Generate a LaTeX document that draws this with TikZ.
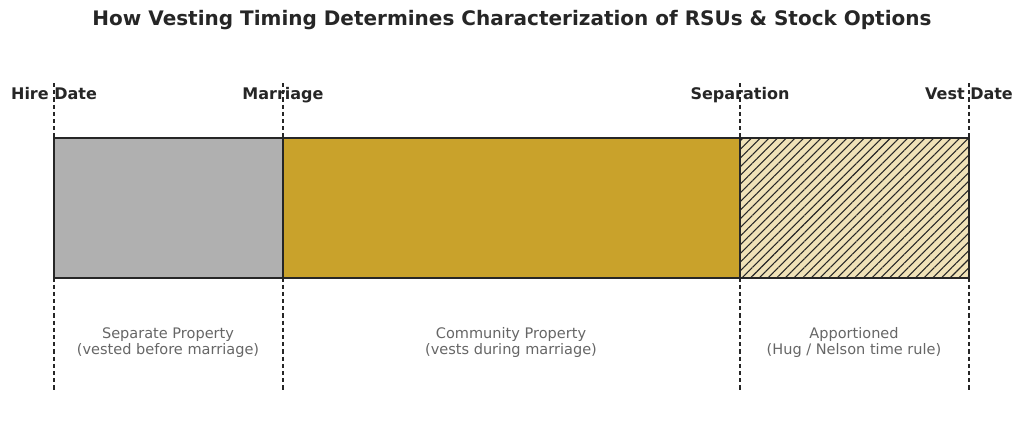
\documentclass[tikz,border=0pt]{standalone}
\usepackage{fontspec}
\setmainfont{DejaVu Sans}
\usetikzlibrary{patterns.meta}

\definecolor{inkdark}{HTML}{262626}
\definecolor{labelgray}{HTML}{666666}
\definecolor{sepgray}{HTML}{B0B0B0}
\definecolor{commgold}{HTML}{C9A22B}
\definecolor{apptan}{HTML}{F0E2B8}

\begin{document}
\begin{tikzpicture}[x=0.75pt,y=-0.75pt,
    milestone/.style={font=\bfseries\fontsize{12}{14}\selectfont, text=inkdark, anchor=base},
    period/.style={font=\fontsize{10.9}{12.2}\selectfont, text=labelgray, align=center},
    marker/.style={dashed, dash pattern=on 3.2pt off 2.2pt, line width=0.9pt, draw=inkdark},
    barbox/.style={draw=inkdark, line width=0.8pt}]
  \useasboundingbox (0,0) rectangle (1024,430);

  \node[font=\bfseries\fontsize{15}{18}\selectfont, text=inkdark] (title) at (512,20.5)
    {How Vesting Timing Determines Characterization of RSUs \& Stock Options};

  % timeline points
  \coordinate (hireT) at (54,83);   \coordinate (hireB) at (54,390);
  \coordinate (marT) at (283,83);   \coordinate (marB) at (283,390);
  \coordinate (sepT) at (740,83);   \coordinate (sepB) at (740,390);
  \coordinate (vestT) at (969,83);  \coordinate (vestB) at (969,390);

  % bars
  \draw[barbox, fill=sepgray] (54,138) rectangle (283,278);
  \draw[barbox, fill=commgold] (283,138) rectangle (740,278);
  \fill[apptan] (740,138) rectangle (969,278);
  \fill[pattern={Lines[angle=45, distance=4.6pt, line width=0.8pt]}, pattern color=inkdark]
    (740,138) rectangle (969,278);
  \draw[barbox] (740,138) rectangle (969,278);

  % dashed markers
  \draw[marker] (hireT) -- (hireB);
  \draw[marker] (marT) -- (marB);
  \draw[marker] (sepT) -- (sepB);
  \draw[marker] (vestT) -- (vestB);

  \node[milestone] (hire) at (54,99.5) {Hire Date};
  \node[milestone] (mar) at (283,99.5) {Marriage};
  \node[milestone] (sep) at (740,99.5) {Separation};
  \node[milestone] (vest) at (969,99.5) {Vest Date};

  \node[period] (sepprop) at (168,342.5) {Separate Property\\(vested before marriage)};
  \node[period] (commprop) at (511,342.5) {Community Property\\(vests during marriage)};
  \node[period] (apport) at (854,342.5) {Apportioned\\(Hug / Nelson time rule)};
\end{tikzpicture}
\end{document}
